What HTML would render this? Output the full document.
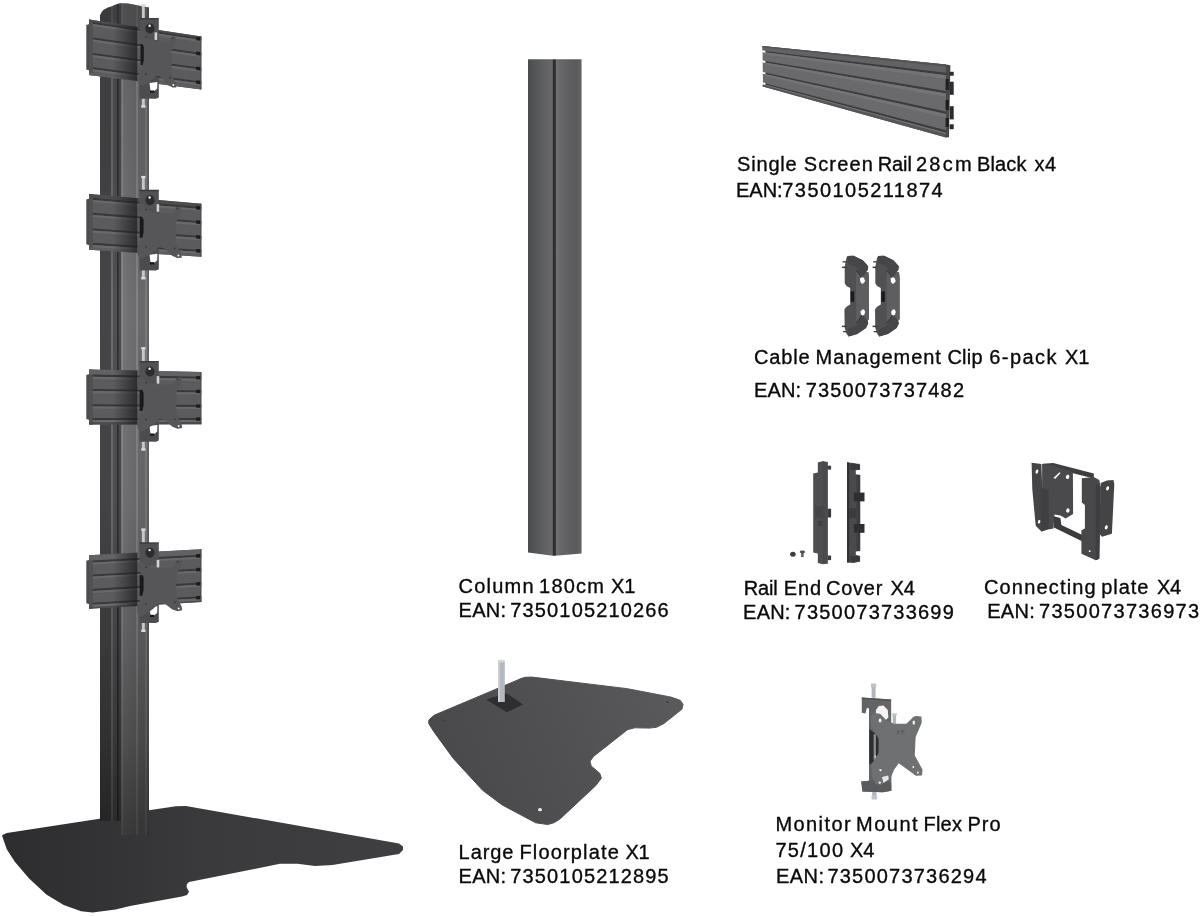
<!DOCTYPE html>
<html><head><meta charset="utf-8"><title>Parts</title>
<style>html,body{margin:0;padding:0;background:#fff;}body{width:1200px;height:916px;position:relative;overflow:hidden;font-family:"Liberation Sans",sans-serif;}</style>
</head><body>
<svg width="1200" height="916" viewBox="0 0 1200 916" style="position:absolute;left:0;top:0;filter:blur(0.5px)"><defs>
<linearGradient id="shG" x1="113" x2="138" y1="0" y2="0" gradientUnits="userSpaceOnUse"><stop offset="0" stop-color="#1a1a1c" stop-opacity="0"/><stop offset="0.6" stop-color="#1a1a1c" stop-opacity="0.45"/><stop offset="1" stop-color="#1a1a1c" stop-opacity="0.75"/></linearGradient>
<linearGradient id="colH" x1="100" x2="149" y1="0" y2="0" gradientUnits="userSpaceOnUse">
 <stop offset="0" stop-color="#454547"/><stop offset="0.22" stop-color="#464648"/>
 <stop offset="0.225" stop-color="#6c6c6e"/><stop offset="0.265" stop-color="#6c6c6e"/>
 <stop offset="0.27" stop-color="#505052"/><stop offset="0.345" stop-color="#505052"/>
 <stop offset="0.35" stop-color="#2c2c2e"/><stop offset="0.375" stop-color="#2c2c2e"/>
 <stop offset="0.38" stop-color="#4a4a4c"/><stop offset="0.435" stop-color="#4c4c4e"/>
 <stop offset="0.44" stop-color="#8a8a8c"/><stop offset="0.47" stop-color="#8a8a8c"/>
 <stop offset="0.475" stop-color="#747476"/><stop offset="0.74" stop-color="#6b6b6d"/>
 <stop offset="0.745" stop-color="#828284"/><stop offset="0.775" stop-color="#828284"/>
 <stop offset="0.78" stop-color="#6a6a6c"/><stop offset="0.915" stop-color="#68686a"/>
 <stop offset="0.92" stop-color="#7a7a7c"/><stop offset="0.955" stop-color="#7a7a7c"/>
 <stop offset="0.96" stop-color="#666668"/><stop offset="1" stop-color="#606062"/>
</linearGradient>
<linearGradient id="colV" x1="0" x2="0" y1="0" y2="836" gradientUnits="userSpaceOnUse">
 <stop offset="0" stop-color="#000" stop-opacity="0.12"/>
 <stop offset="0.18" stop-color="#000" stop-opacity="0.09"/>
 <stop offset="0.36" stop-color="#000" stop-opacity="0.0"/>
 <stop offset="0.6" stop-color="#000" stop-opacity="0.04"/>
 <stop offset="0.777" stop-color="#000" stop-opacity="0.19"/>
 <stop offset="0.885" stop-color="#000" stop-opacity="0.31"/>
 <stop offset="0.957" stop-color="#000" stop-opacity="0.43"/>
 <stop offset="1" stop-color="#000" stop-opacity="0.50"/>
</linearGradient>
<linearGradient id="baseG" x1="0" x2="400" y1="0" y2="0" gradientUnits="userSpaceOnUse">
 <stop offset="0" stop-color="#2d2d2f"/><stop offset="0.3" stop-color="#343436"/><stop offset="0.5" stop-color="#3a3a3c"/><stop offset="1" stop-color="#3f3f41"/>
</linearGradient>
<linearGradient id="col2" x1="528" x2="581.5" y1="0" y2="0" gradientUnits="userSpaceOnUse">
 <stop offset="0" stop-color="#4b4c4e"/><stop offset="0.25" stop-color="#5c5d5f"/>
 <stop offset="0.455" stop-color="#69696b"/><stop offset="0.47" stop-color="#2e2e30"/>
 <stop offset="0.512" stop-color="#2e2e30"/><stop offset="0.527" stop-color="#727274"/>
 <stop offset="0.6" stop-color="#676769"/><stop offset="0.8" stop-color="#5e5e60"/>
 <stop offset="0.93" stop-color="#5a5a5c"/><stop offset="0.95" stop-color="#646466"/><stop offset="1" stop-color="#5a5a5c"/>
</linearGradient>
<g id="clip"><path d="M847.5,255.9 L853.5,255.7 L862.8,260.3 L868.2,266.3 L867.7,269.9 L864.7,272.3 L868.4,272.3 L869.0,277.8 L869.0,319.2 L867.7,320.5 L868.2,323.6 L866.0,328.0 L857.3,334.0 L848.6,336.5 L846.4,333.4 L844.7,328.0 L844.4,309.4 L846.4,306.7 L850.2,304.5 L850.2,288.1 L846.4,285.9 L844.7,283.2 L844.7,266.8 L846.4,258.1 Z" fill="#505052"/><path d="M856.0,272.3 L861.7,276.7 L864.7,272.3 L868.4,272.3 L869.0,277.8 L869.0,319.2 L867.1,320.3 L864.9,317.1 L861.7,314.9 L856.2,321.4 Z" fill="#5e5e60"/><path d="M847.5,255.9 L853.5,255.7 L862.8,260.3 L868.2,266.3 L867.7,269.9 L862.8,276.7 L859.5,272.3 L856.2,266.8 L848.0,263.6 Z" fill="#464648"/><path d="M848.6,336.5 L857.3,334.0 L866.0,328.0 L868.2,323.6 L867.1,320.3 L862.8,316.0 L859.5,320.3 L856.2,325.8 L847.5,329.1 Z" fill="#464648"/><path d="M860.0,278.3 L862.2,277.2 L863.8,277.8 L865.2,281.0 L863.3,283.4 L861.7,283.8 L860.3,281.6 Z" fill="#fff"/><path d="M860.6,311.6 L862.2,309.4 L864.1,309.6 L865.2,312.1 L864.1,314.9 L862.2,315.4 L860.8,314.0 Z" fill="#fff"/><rect x="850.7" y="291.4" width="3.5" height="10.4" fill="#1a1a1c"/><path d="M856.0,270.7 L858.6,272.3 L861.1,277.2" stroke="#2a2a2c" stroke-width="0.8" fill="none"/><path d="M856.2,323.1 L858.9,320.3 L861.7,315.4" stroke="#2a2a2c" stroke-width="0.8" fill="none"/><rect x="842.6" y="261.2" width="4.0" height="1.3" fill="#3a3a3c"/><rect x="842.0" y="266.6" width="4.6" height="1.5" fill="#3a3a3c"/><rect x="842.0" y="325.6" width="4.6" height="1.5" fill="#3a3a3c"/><rect x="843.1" y="331.0" width="3.8" height="1.3" fill="#3a3a3c"/></g><linearGradient id="fpG" x1="430" y1="790" x2="680" y2="690" gradientUnits="userSpaceOnUse"><stop offset="0" stop-color="#48484a"/><stop offset="0.5" stop-color="#505052"/><stop offset="1" stop-color="#5a5a5c"/></linearGradient></defs><polygon points="2.3,834.9 6.9,833.1 99.5,818.7 150.5,810.0 176.0,806.3 186.0,806.0 399.0,843.5 403.0,846.5 403.0,850.0 399.0,854.0 332.5,865.0 315.0,866.0 297.5,863.8 280.0,863.8 189.0,882.0 187.0,884.0 186.5,887.0 189.0,891.8 187.0,895.0 182.0,896.5 130.0,906.1 115.7,909.5 92.6,912.4 81.0,911.3 63.7,904.9 46.3,894.5 28.9,878.3 15.0,862.1 6.9,849.4 2.3,836.6" fill="url(#baseG)"/>
<path d="M100,830 L100,15.5 Q102,8.5 112,6.2 Q118,3.4 121,3.2 L128,3.5 L141,6.1 L149,7.4 L149,835 L121,835 L121,821 L100,821 Z" fill="url(#colH)"/>
<path d="M100,830 L100,15.5 Q102,8.5 112,6.2 Q118,3.4 121,3.2 L128,3.5 L141,6.1 L149,7.4 L149,835 L121,835 L121,821 L100,821 Z" fill="url(#colV)"/>
<path d="M100,30 L100,15.5 Q102,8.5 112,6.2 Q118,3.4 121,3.2 L128,3.5 L141,6.1 L149,7.4 L149,30 Z" fill="#38383a" opacity="0.5"/>
<polygon points="86.3,25.1 89.5,24.1 89.5,70.4 86.3,69.4" fill="#4a4a4c"/>
<polygon points="89.0,19.6 201.3,36.4 201.3,89.4 89.0,74.9" fill="#5b5b5d"/>
<polygon points="89.0,19.6 92.9,20.2 92.9,75.4 89.0,74.9" fill="#515153" />
<polygon points="89.0,19.6 201.3,36.4 201.3,38.0 89.0,21.3" fill="#4c4c4e" />
<polygon points="89.0,72.4 201.3,87.0 201.3,89.4 89.0,74.9" fill="#5e5e60" />
<polygon points="92.9,22.0 201.3,38.1 201.3,40.1 92.9,24.1" fill="#38383a" />
<polygon points="92.9,24.1 201.3,40.1 201.3,42.2 92.9,26.3" fill="#69696b" />
<polygon points="92.9,37.4 201.3,52.9 201.3,55.0 92.9,39.5" fill="#38383a" />
<polygon points="92.9,39.5 201.3,55.0 201.3,57.1 92.9,41.7" fill="#69696b" />
<polygon points="92.9,52.9 201.3,67.8 201.3,69.8 92.9,55.0" fill="#38383a" />
<polygon points="92.9,55.0 201.3,69.8 201.3,71.9 92.9,57.2" fill="#69696b" />
<polygon points="92.9,67.2 201.3,81.6 201.3,83.6 92.9,69.3" fill="#38383a" />
<polygon points="92.9,69.3 201.3,83.6 201.3,85.7 92.9,71.5" fill="#69696b" />
<polygon points="113.7,23.3 137.3,26.8 137.3,81.1 113.7,78.1" fill="url(#shG)" />
<polygon points="196.2,36.7 200.2,37.3 200.2,40.7 196.2,40.2" fill="#1c1c1e" />
<polygon points="196.2,51.6 200.2,52.1 200.2,55.6 196.2,55.0" fill="#1c1c1e" />
<polygon points="196.2,66.4 200.2,67.0 200.2,70.4 196.2,69.9" fill="#1c1c1e" />
<polygon points="196.2,80.3 200.2,80.8 200.2,84.2 196.2,83.7" fill="#1c1c1e" />
<polygon points="200.4,36.3 201.3,36.4 201.3,89.4 200.4,89.3" fill="#4a4a4c" />
<rect x="141.9" y="4.5" width="2.9" height="14" fill="#c4c8cc"/>
<rect x="141.2" y="4.2" width="4.3" height="2.2" fill="#d8dbde"/>
<rect x="141.9" y="98.5" width="2.9" height="8" fill="#c4c8cc"/>
<rect x="141.2" y="105.3" width="4.3" height="2.4" fill="#d8dbde"/>
<path d="M139.6,18.5 L158.8,19.3 L158.8,41.0 L139.6,41.0 Z" fill="#515153"/>
<rect x="139.6" y="18.0" width="19.2" height="1.6" fill="#3c3c3e"/>
<ellipse cx="150" cy="28.5" rx="4.6" ry="5" fill="#2c2c2e"/>
<circle cx="149.6" cy="25.8" r="1.2" fill="#f4f4f4"/>
<path d="M139.6,77.0 L158.8,77.0 L158.8,97.5 L156,98.8 L139.6,98.5 Z" fill="#4c4c4e"/>
<path d="M149.5,83.0 L157.4,82.0 L157.2,88.5 L154.5,91.0 L150.5,91.0 Z" fill="#fff"/>
<rect x="150" y="90.5" width="4.3" height="2.2" fill="#161618"/>
<polygon points="140.5,43.8 144.2,44.5 144.2,65.5 140.5,64.8" fill="#1a1a1c"/>
<polygon points="138.3,31.5 142.2,30.8 146.0,35.4 150.4,40.0 168.0,43.0 171.3,38.3 173.0,35.9 175.7,37.0 175.7,41.6 171.3,51.4 171.3,72.3 175.7,83.5 176.3,87.6 172.4,87.6 168.0,84.9 161.4,77.2 157.0,75.2 152.6,79.7 148.2,82.9 142.2,85.8 138.9,82.7 138.3,74.7 142.7,65.0 143.8,59.9 143.8,46.8 138.9,36.8" fill="#565658"/>
<circle cx="146.0" cy="37.3" r="1" fill="#3a3a3c"/>
<circle cx="172.3" cy="38.1" r="1" fill="#3a3a3c"/>
<circle cx="145.8" cy="74.2" r="1" fill="#3a3a3c"/>
<circle cx="170.2" cy="77.8" r="1" fill="#3a3a3c"/>
<circle cx="173.3" cy="85.1" r="1" fill="#eee"/>
<rect x="154.6" y="32.4" width="2.6" height="7.5" fill="#d0d3d6"/>
<polygon points="86.3,199.5 89.5,198.5 89.5,245.2 86.3,244.2" fill="#4a4a4c"/>
<polygon points="89.0,194.0 201.3,203.7 201.3,256.7 89.0,249.7" fill="#5b5b5d"/>
<polygon points="89.0,194.0 92.9,194.3 92.9,249.9 89.0,249.7" fill="#515153" />
<polygon points="89.0,194.0 201.3,203.7 201.3,206.9 89.0,197.3" fill="#4c4c4e" />
<polygon points="89.0,247.2 201.3,254.3 201.3,256.7 89.0,249.7" fill="#5e5e60" />
<polygon points="92.9,197.8 201.3,207.0 201.3,209.0 92.9,199.9" fill="#38383a" />
<polygon points="92.9,199.9 201.3,209.0 201.3,211.1 92.9,202.1" fill="#69696b" />
<polygon points="92.9,212.8 201.3,221.3 201.3,223.3 92.9,214.9" fill="#38383a" />
<polygon points="92.9,214.9 201.3,223.3 201.3,225.4 92.9,217.1" fill="#69696b" />
<polygon points="92.9,228.4 201.3,236.1 201.3,238.1 92.9,230.5" fill="#38383a" />
<polygon points="92.9,230.5 201.3,238.1 201.3,240.3 92.9,232.7" fill="#69696b" />
<polygon points="92.9,242.8 201.3,249.9 201.3,251.9 92.9,244.9" fill="#38383a" />
<polygon points="92.9,244.9 201.3,251.9 201.3,254.0 92.9,247.2" fill="#69696b" />
<polygon points="113.7,196.1 137.3,198.2 137.3,252.7 113.7,251.2" fill="url(#shG)" />
<polygon points="196.2,205.9 200.2,206.3 200.2,209.7 196.2,209.4" fill="#1c1c1e" />
<polygon points="196.2,220.3 200.2,220.6 200.2,224.0 196.2,223.7" fill="#1c1c1e" />
<polygon points="196.2,235.1 200.2,235.4 200.2,238.9 196.2,238.6" fill="#1c1c1e" />
<polygon points="196.2,248.9 200.2,249.2 200.2,252.7 196.2,252.4" fill="#1c1c1e" />
<polygon points="200.4,203.6 201.3,203.7 201.3,256.7 200.4,256.6" fill="#4a4a4c" />
<rect x="141.9" y="176.2" width="2.9" height="14" fill="#c4c8cc"/>
<rect x="141.2" y="175.9" width="4.3" height="2.2" fill="#d8dbde"/>
<rect x="141.9" y="270.2" width="2.9" height="8" fill="#c4c8cc"/>
<rect x="141.2" y="277.0" width="4.3" height="2.4" fill="#d8dbde"/>
<path d="M139.6,190.2 L158.8,191.0 L158.8,212.7 L139.6,212.7 Z" fill="#515153"/>
<rect x="139.6" y="189.7" width="19.2" height="1.6" fill="#3c3c3e"/>
<ellipse cx="150" cy="200.2" rx="4.6" ry="5" fill="#2c2c2e"/>
<circle cx="149.6" cy="197.5" r="1.2" fill="#f4f4f4"/>
<path d="M139.6,248.7 L158.8,248.7 L158.8,269.2 L156,270.5 L139.6,270.2 Z" fill="#4c4c4e"/>
<path d="M149.5,254.7 L157.4,253.7 L157.2,260.2 L154.5,262.7 L150.5,262.7 Z" fill="#fff"/>
<rect x="150" y="262.2" width="4.3" height="2.2" fill="#161618"/>
<polygon points="139.7,216.8 144.0,217.1 144.0,238.1 139.7,237.8" fill="#1a1a1c"/>
<polygon points="137.1,204.6 141.7,203.6 146.2,207.9 151.4,212.2 172.1,213.8 176.0,208.8 178.0,206.4 181.2,207.3 181.2,211.8 176.0,221.9 176.0,242.9 181.2,253.8 181.9,257.7 177.3,258.1 172.1,255.7 164.3,248.6 159.2,246.9 154.0,251.7 148.8,255.3 141.7,258.7 137.8,255.7 137.1,247.8 142.3,237.7 143.6,232.6 143.6,219.5 137.8,209.9" fill="#565658"/>
<circle cx="146.2" cy="209.8" r="1" fill="#3a3a3c"/>
<circle cx="177.2" cy="208.6" r="1" fill="#3a3a3c"/>
<circle cx="146.0" cy="246.8" r="1" fill="#3a3a3c"/>
<circle cx="174.7" cy="248.4" r="1" fill="#3a3a3c"/>
<circle cx="178.4" cy="255.5" r="1" fill="#eee"/>
<rect x="156.6" y="204.2" width="2.6" height="7.5" fill="#d0d3d6"/>
<polygon points="86.3,375.0 89.5,374.0 89.5,420.0 86.3,419.0" fill="#4a4a4c"/>
<polygon points="89.0,369.5 201.3,372.0 201.3,424.2 89.0,424.5" fill="#5b5b5d"/>
<polygon points="89.0,369.5 92.9,369.6 92.9,424.5 89.0,424.5" fill="#515153" />
<polygon points="89.0,369.5 201.3,372.0 201.3,376.7 89.0,374.4" fill="#626264" />
<polygon points="89.0,422.0 201.3,421.9 201.3,424.2 89.0,424.5" fill="#4a4a4c" />
<polygon points="92.9,374.6 201.3,376.8 201.3,378.8 92.9,376.7" fill="#38383a" />
<polygon points="92.9,376.7 201.3,378.8 201.3,380.9 92.9,378.9" fill="#69696b" />
<polygon points="92.9,388.9 201.3,390.4 201.3,392.4 92.9,391.0" fill="#38383a" />
<polygon points="92.9,391.0 201.3,392.4 201.3,394.4 92.9,393.2" fill="#69696b" />
<polygon points="92.9,404.3 201.3,405.0 201.3,407.0 92.9,406.4" fill="#38383a" />
<polygon points="92.9,406.4 201.3,407.0 201.3,409.1 92.9,408.6" fill="#69696b" />
<polygon points="92.9,418.0 201.3,418.0 201.3,420.0 92.9,420.1" fill="#38383a" />
<polygon points="92.9,420.1 201.3,420.0 201.3,422.1 92.9,422.3" fill="#69696b" />
<polygon points="113.7,370.1 137.3,370.6 137.3,424.4 113.7,424.4" fill="url(#shG)" />
<polygon points="196.2,376.1 200.2,376.2 200.2,379.5 196.2,379.5" fill="#1c1c1e" />
<polygon points="196.2,389.7 200.2,389.7 200.2,393.1 196.2,393.1" fill="#1c1c1e" />
<polygon points="196.2,404.3 200.2,404.4 200.2,407.8 196.2,407.7" fill="#1c1c1e" />
<polygon points="196.2,417.4 200.2,417.4 200.2,420.8 196.2,420.8" fill="#1c1c1e" />
<polygon points="200.4,372.0 201.3,372.0 201.3,424.2 200.4,424.2" fill="#4a4a4c" />
<rect x="141.9" y="347.5" width="2.9" height="14" fill="#c4c8cc"/>
<rect x="141.2" y="347.2" width="4.3" height="2.2" fill="#d8dbde"/>
<rect x="141.9" y="441.5" width="2.9" height="8" fill="#c4c8cc"/>
<rect x="141.2" y="448.3" width="4.3" height="2.4" fill="#d8dbde"/>
<path d="M139.6,361.5 L158.8,362.3 L158.8,384.0 L139.6,384.0 Z" fill="#515153"/>
<rect x="139.6" y="361.0" width="19.2" height="1.6" fill="#3c3c3e"/>
<ellipse cx="150" cy="371.5" rx="4.6" ry="5" fill="#2c2c2e"/>
<circle cx="149.6" cy="368.8" r="1.2" fill="#f4f4f4"/>
<path d="M139.6,420.0 L158.8,420.0 L158.8,440.5 L156,441.8 L139.6,441.5 Z" fill="#4c4c4e"/>
<path d="M149.5,426.0 L157.4,425.0 L157.2,431.5 L154.5,434.0 L150.5,434.0 Z" fill="#fff"/>
<rect x="150" y="433.5" width="4.3" height="2.2" fill="#161618"/>
<polygon points="139.6,389.9 144.0,390.0 144.0,411.0 139.6,410.9" fill="#1a1a1c"/>
<polygon points="137.0,377.9 141.6,376.6 146.2,380.6 151.4,384.6 172.4,384.8 176.3,379.6 178.3,377.0 181.6,377.7 181.6,382.3 176.3,392.7 176.3,413.7 181.6,424.2 182.2,428.1 177.6,428.8 172.4,426.7 164.5,420.1 159.3,418.7 154.1,423.9 148.8,427.8 141.6,431.7 137.7,429.0 137.0,421.1 142.3,410.7 143.6,405.5 143.6,392.4 137.7,383.2" fill="#565658"/>
<circle cx="146.2" cy="382.5" r="1" fill="#3a3a3c"/>
<circle cx="177.5" cy="379.3" r="1" fill="#3a3a3c"/>
<circle cx="146.0" cy="419.5" r="1" fill="#3a3a3c"/>
<circle cx="175.0" cy="419.3" r="1" fill="#3a3a3c"/>
<circle cx="178.7" cy="426.1" r="1" fill="#eee"/>
<rect x="156.7" y="376.1" width="2.6" height="7.5" fill="#d0d3d6"/>
<polygon points="86.3,560.7 89.5,559.7 89.5,604.3 86.3,603.3" fill="#4a4a4c"/>
<polygon points="89.0,555.2 201.3,549.3 201.3,602.0 89.0,608.8" fill="#5b5b5d"/>
<polygon points="89.0,555.2 92.9,555.0 92.9,608.6 89.0,608.8" fill="#515153" />
<polygon points="89.0,555.2 201.3,549.3 201.3,554.6 89.0,560.6" fill="#626264" />
<polygon points="89.0,606.4 201.3,599.6 201.3,602.0 89.0,608.8" fill="#4a4a4c" />
<polygon points="92.9,560.5 201.3,554.7 201.3,556.7 92.9,562.5" fill="#38383a" />
<polygon points="92.9,562.5 201.3,556.7 201.3,558.8 92.9,564.6" fill="#69696b" />
<polygon points="92.9,574.4 201.3,568.4 201.3,570.4 92.9,576.4" fill="#38383a" />
<polygon points="92.9,576.4 201.3,570.4 201.3,572.5 92.9,578.6" fill="#69696b" />
<polygon points="92.9,588.8 201.3,582.6 201.3,584.6 92.9,590.9" fill="#38383a" />
<polygon points="92.9,590.9 201.3,584.6 201.3,586.7 92.9,593.0" fill="#69696b" />
<polygon points="92.9,602.8 201.3,596.3 201.3,598.3 92.9,604.8" fill="#38383a" />
<polygon points="92.9,604.8 201.3,598.3 201.3,600.4 92.9,607.0" fill="#69696b" />
<polygon points="113.7,553.9 137.3,552.7 137.3,605.9 113.7,607.3" fill="url(#shG)" />
<polygon points="196.2,554.3 200.2,554.1 200.2,557.5 196.2,557.7" fill="#1c1c1e" />
<polygon points="196.2,568.0 200.2,567.8 200.2,571.2 196.2,571.5" fill="#1c1c1e" />
<polygon points="196.2,582.3 200.2,582.0 200.2,585.5 196.2,585.7" fill="#1c1c1e" />
<polygon points="196.2,596.0 200.2,595.7 200.2,599.2 196.2,599.4" fill="#1c1c1e" />
<polygon points="200.4,549.3 201.3,549.3 201.3,602.0 200.4,602.1" fill="#4a4a4c" />
<rect x="141.9" y="528.8" width="2.9" height="14" fill="#c4c8cc"/>
<rect x="141.2" y="528.5" width="4.3" height="2.2" fill="#d8dbde"/>
<rect x="141.9" y="622.8" width="2.9" height="8" fill="#c4c8cc"/>
<rect x="141.2" y="629.6" width="4.3" height="2.4" fill="#d8dbde"/>
<path d="M139.6,542.8 L158.8,543.6 L158.8,565.3 L139.6,565.3 Z" fill="#515153"/>
<rect x="139.6" y="542.3" width="19.2" height="1.6" fill="#3c3c3e"/>
<ellipse cx="150" cy="552.8" rx="4.6" ry="5" fill="#2c2c2e"/>
<circle cx="149.6" cy="550.1" r="1.2" fill="#f4f4f4"/>
<path d="M139.6,601.3 L158.8,601.3 L158.8,621.8 L156,623.1 L139.6,622.8 Z" fill="#4c4c4e"/>
<path d="M149.5,607.3 L157.4,606.3 L157.2,612.8 L154.5,615.3 L150.5,615.3 Z" fill="#fff"/>
<rect x="150" y="614.8" width="4.3" height="2.2" fill="#161618"/>
<polygon points="139.6,574.9 144.0,574.7 144.0,595.7 139.6,595.9" fill="#1a1a1c"/>
<polygon points="137.0,563.0 141.6,561.5 146.2,565.1 151.4,568.8 172.4,567.6 176.3,562.1 178.3,559.4 181.6,559.9 181.6,564.5 176.3,575.2 176.3,596.2 181.6,606.4 182.2,610.3 177.6,611.2 172.4,609.5 164.5,603.4 159.3,602.4 154.1,607.9 148.8,612.2 141.6,616.5 137.7,614.1 137.0,606.3 142.3,595.5 143.6,590.2 143.6,577.1 137.7,568.2" fill="#565658"/>
<circle cx="146.2" cy="567.0" r="1" fill="#3a3a3c"/>
<circle cx="177.5" cy="561.8" r="1" fill="#3a3a3c"/>
<circle cx="146.0" cy="604.0" r="1" fill="#3a3a3c"/>
<circle cx="175.0" cy="601.9" r="1" fill="#3a3a3c"/>
<circle cx="178.7" cy="608.5" r="1" fill="#eee"/>
<rect x="156.7" y="559.9" width="2.6" height="7.5" fill="#d0d3d6"/>
<polygon points="762.5,46.1 946.0,64.6 946.0,137.4 763.0,86.5" fill="#6a6a6c"/>
<polygon points="946,64.6 950.4,65.3 949,137.2 946,137.4" fill="#48484a"/>
<rect x="949.6" y="71.8" width="4.1" height="3.9" fill="#2c2c2e"/>
<rect x="949.6" y="81.7" width="4.1" height="13.1" fill="#2c2c2e"/>
<rect x="949.6" y="106.2" width="4.1" height="13.2" fill="#2c2c2e"/>
<rect x="949.6" y="124.3" width="4.1" height="4.9" fill="#2c2c2e"/>
<rect x="945.6" y="79" width="3.2" height="11.0" fill="#1e1e20"/>
<rect x="945.6" y="100" width="3.2" height="10.0" fill="#1e1e20"/>
<rect x="945.6" y="118" width="3.2" height="9.0" fill="#1e1e20"/>
<polygon points="762.5,46.1 946.0,64.6 946.0,72.6 762.5,50.5" fill="#626264" />
<polygon points="762.5,46.1 946.0,64.6 946.0,66.8 762.5,47.3" fill="#545456" />
<polygon points="764.7,50.9 946.0,72.8 946.0,75.3 764.7,52.3" fill="#3c3c3e" />
<polygon points="764.7,52.3 946.0,75.3 946.0,78.8 764.7,54.3" fill="#747476" />
<polygon points="764.7,61.1 946.0,91.0 946.0,93.5 764.7,62.5" fill="#3c3c3e" />
<polygon points="764.7,62.5 946.0,93.5 946.0,97.0 764.7,64.5" fill="#747476" />
<polygon points="764.7,72.5 946.0,111.4 946.0,113.9 764.7,73.9" fill="#3c3c3e" />
<polygon points="764.7,73.9 946.0,113.9 946.0,117.4 764.7,75.9" fill="#747476" />
<polygon points="764.7,83.2 946.0,130.3 946.0,132.8 764.7,84.5" fill="#3c3c3e" />
<polygon points="764.7,84.5 946.0,132.8 946.0,136.3 764.7,86.5" fill="#747476" />
<polygon points="762.5,84.7 946.0,134.1 946.0,137.4 762.5,86.5" fill="#565658" />
<polygon points="762.1,50.3 765.4,50.7 765.4,52.7 762.1,52.2" fill="#ffffff" />
<polygon points="762.1,60.4 765.4,60.9 765.4,62.9 762.1,62.3" fill="#ffffff" />
<polygon points="762.1,71.7 765.4,72.4 765.4,74.3 762.1,73.6" fill="#ffffff" />
<polygon points="762.1,82.2 765.4,83.0 765.4,85.0 762.1,84.1" fill="#ffffff" />
<use href="#clip"/><use href="#clip" transform="translate(30.6,0)"/>
<path d="M817.8,462.4 L823.1,461.1 L827.6,462.4 L827.6,553.5 L827.6,563.3 L823.1,564.2 L817.8,562.9 L817.8,553.5 L813.2,552.6 L813.2,473.6 L817.8,472.5 Z" fill="#4e4e50"/>
<rect x="823.1" y="461.8" width="4.6" height="101.9" fill="#4a4a4c" />
<rect x="827.6" y="465.7" width="3.5" height="3.9" fill="#3c3c3e" />
<rect x="827.6" y="508.7" width="3.5" height="8.8" fill="#3a3a3c" />
<rect x="827.6" y="555.5" width="3.5" height="4.6" fill="#3c3c3e" />
<rect x="815.2" y="506.3" width="7.9" height="11.8" fill="#444446" opacity="0.8"/>
<rect x="817.8" y="520.7" width="4.6" height="5.2" fill="#3c3c3e" opacity="0.7"/>
<path d="M847.0,462.4 L853.8,463.1 L860.1,464.7 L860.1,469.7 L855.8,470.3 L855.8,474.2 L860.1,474.9 L860.1,550.9 L855.8,551.5 L855.8,554.8 L860.1,555.9 L860.1,561.4 L853.8,562.9 L847.0,562.4 Z" fill="#4a4a4c"/>
<rect x="847.0" y="462.4" width="2.1" height="100.0" fill="#303032" />
<rect x="850.2" y="463.8" width="9.4" height="5.9" fill="#3a3a3c" />
<rect x="850.2" y="556.1" width="9.4" height="5.5" fill="#3a3a3c" />
<rect x="856.5" y="474.9" width="3.7" height="76.0" fill="#3e3e40" />
<rect x="853.8" y="492.6" width="10.7" height="8.8" fill="#2e2e30" />
<rect x="853.8" y="524.0" width="10.7" height="8.8" fill="#2e2e30" />
<rect x="849.1" y="508.3" width="7.3" height="9.8" fill="#3c3c3e" />
<ellipse cx="792.9" cy="554.3" rx="2.8" ry="2.5" fill="#3e3e40"/>
<ellipse cx="802.4" cy="551.9" rx="2.6" ry="1.4" fill="#4a4a4c"/>
<rect x="801.2" y="551.9" width="2.4" height="5.2" fill="#555557" />
<path d="M1042.8,463.8 L1053.2,463.1 L1093.8,473.6 L1093.8,478.6 L1053.2,468.3 L1042.8,466.4 Z" fill="#3e3e40" />
<path d="M1053.9,516.2 L1060.4,518.1 L1061.4,524.9 L1083.4,535.4 L1083.6,542.0 L1053.9,527.6 Z" fill="#3c3c3e" />
<path d="M1042.1,464.1 L1053.2,465.5 L1072.9,472.3 L1073.1,513.9 L1065.7,518.4 L1060.4,515.5 L1054.5,514.5 L1053.5,528.6 L1048.6,529.4 L1042.1,489.3 Z" fill="#4a4a4c" />
<path d="M1053.5,477.8 L1059.5,472.3 L1060.6,473.1 L1055.2,479.1 Z" fill="#f2f2f2" />
<path d="M1031.6,462.8 L1041.4,464.1 L1042.2,488.0 L1048.3,489.3 L1048.8,528.9 L1041.4,531.5 L1035.7,525.7 L1032.3,489.3 Z" fill="#454547" />
<path d="M1040.4,488.0 L1048.3,489.3 L1048.8,528.9 L1041.4,531.5 L1040.8,512.9 Z" fill="#404042" />
<path d="M1081.8,478.2 L1093.8,476.9 L1099.3,479.9 L1100.7,486.9 L1099.3,558.7 L1095.8,560.3 L1081.4,553.8 L1081.4,530.2 L1084.9,528.6 L1084.9,505.0 L1081.8,502.4 Z" fill="#48484a" />
<path d="M1095.8,484.1 L1100.7,486.9 L1099.3,558.7 L1095.8,560.3 Z" fill="#3e3e40" />
<path d="M1100.7,483.0 L1106.9,480.4 L1113.5,480.1 L1114.3,484.3 L1111.9,533.8 L1102.0,536.7 L1099.3,533.8 Z" fill="#444446" />
<ellipse cx="1036.9" cy="471.6" rx="1.3" ry="2.1" fill="#fff" transform="rotate(18 1036.9 471.6)"/>
<ellipse cx="1039.1" cy="521.8" rx="1.2" ry="1.8" fill="#fff" transform="rotate(18 1039.1 521.8)"/>
<ellipse cx="1067.6" cy="476.9" rx="1.7" ry="2.2" fill="#fff" transform="rotate(18 1067.6 476.9)"/>
<ellipse cx="1067.9" cy="510.5" rx="1.7" ry="2.2" fill="#fff" transform="rotate(18 1067.9 510.5)"/>
<ellipse cx="1107.6" cy="488.3" rx="1.4" ry="2.2" fill="#fff" transform="rotate(18 1107.6 488.3)"/>
<ellipse cx="1106.3" cy="527.3" rx="1.4" ry="2.2" fill="#fff" transform="rotate(18 1106.3 527.3)"/>
<ellipse cx="1089.7" cy="551.1" rx="1.0" ry="0.9" fill="#fff" transform="rotate(18 1089.7 551.1)"/>
<rect x="871.6" y="685.3" width="4.0" height="12.5" fill="#aeb6c0" />
<rect x="871.0" y="683.5" width="5.2" height="3.7" fill="#bcc4cc" />
<rect x="872.2" y="792.0" width="4.3" height="7.3" fill="#aeb6c0" />
<rect x="871.6" y="795.3" width="5.5" height="4.0" fill="#bcc4cc" />
<path d="M861.8,697.5 L891.1,699.5 L891.4,790.8 L882.7,792.3 L862.4,791.5 L861.3,781.6 L869.0,780.8 L869.0,708.2 L866.7,708.2 L865.5,713.6 L861.8,712.8 Z" fill="#626466" />
<path d="M861.8,697.5 L891.1,699.5 L891.1,701.0 L861.8,699.0 Z" fill="#505254" />
<path d="M861.3,781.6 L869.0,780.8 L891.1,782.4 L891.4,790.8 L882.7,792.3 L862.4,791.5 Z" fill="#585a5c" />
<path d="M875.9,710.0 L878.9,705.9 L883.5,705.5 L887.8,710.0 L888.4,717.4 L883.5,722.0 L875.9,714.3 Z" fill="#f4f4f4" />
<path d="M869.4,728.9 L875.9,734.2 L878.6,738.8 L878.6,753.3 L875.9,760.2 L869.4,764.8 Z" fill="#2c2e30" />
<path d="M873.6,734.2 L875.9,734.2 L875.9,760.2 L873.6,760.2 Z" fill="#8a8e92" />
<rect x="892.7" y="714.3" width="3.4" height="9.5" fill="#aeb6c0" />
<rect x="891.9" y="713.3" width="4.9" height="2.1" fill="#c0c6cc" />
<path d="M874.3,712.8 L880.4,714.0 L886.6,720.4 L894.2,723.8 L906.4,723.8 L913.3,717.1 L915.6,715.9 L921.4,716.6 L921.7,722.7 L915.6,737.3 L914.8,755.6 L922.5,769.4 L922.0,775.5 L915.9,775.8 L898.8,763.2 L894.2,769.4 L891.1,777.0 L881.2,784.9 L875.9,783.9 L872.0,777.0 L871.3,764.8 L878.9,752.5 L878.9,738.8 L871.3,726.6 L870.5,715.9 Z" fill="#6e7072" />
<ellipse cx="880.1" cy="720.4" rx="1.4" ry="2.0" fill="#f4f4f4"/>
<ellipse cx="913.8" cy="722.7" rx="1.2" ry="2.1" fill="#f4f4f4"/>
<ellipse cx="880.4" cy="770.1" rx="1.1" ry="1.2" fill="#f4f4f4"/>
<ellipse cx="913.3" cy="767.1" rx="0.9" ry="1.1" fill="#f4f4f4"/>
<ellipse cx="917.9" cy="772.7" rx="0.9" ry="1.1" fill="#f4f4f4"/>
<ellipse cx="879.7" cy="782.7" rx="1.2" ry="1.1" fill="#f4f4f4"/>
<ellipse cx="875.1" cy="756.4" rx="1.1" ry="1.5" fill="#b8bcc0"/>
<path d="M882.0,777.0 L888.1,775.5 L888.9,779.3 L883.5,783.1 Z" fill="#e8e8e8" />
<rect x="897.3" y="730.4" width="1.8" height="3.8" fill="#5a5c5e" />
<rect x="900.0" y="730.4" width="4.9" height="1.1" fill="#5a5c5e" />
<rect x="901.8" y="730.4" width="1.5" height="3.8" fill="#5a5c5e" />
<path d="M428.8,720.1 L434.2,715.2 L520.0,679.0 L524.8,677.3 L532.0,677.1 L627.5,688.7 L671.0,697.1 L680.2,700.3 L683.1,704.4 L681.9,709.2 L663.7,723.7 L656.5,727.3 L649.2,728.1 L634.7,727.8 L627.5,729.7 L593.7,756.3 L590.0,761.2 L591.2,766.0 L599.7,773.2 L601.4,778.1 L596.1,785.3 L559.8,819.2 L553.8,822.8 L547.7,824.5 L535.7,822.8 L501.8,804.7 L482.5,790.2 L453.5,758.7 L434.2,732.2 L428.8,723.7 Z" fill="url(#fpG)" stroke="url(#fpG)" stroke-width="1" stroke-linejoin="round"/>
<path d="M486.1,699.5 L506.7,693.5 L523.1,704.4 L506.7,712.3 Z" fill="#2e2e30" />
<rect x="498.0" y="660.9" width="6.8" height="41.1" fill="#b4b8c0" />
<ellipse cx="501.3" cy="660.9" rx="3.4" ry="1.5" fill="#d4d8de"/>
<rect x="498.0" y="660.9" width="1.9" height="41.1" fill="#cfd3d9" opacity="0.8"/>
<ellipse cx="540.0" cy="809.7" rx="2" ry="1.6" fill="#f0f0f0"/>
<circle cx="443.8" cy="720.8" r="0.9" fill="#38383a"/>
<circle cx="667.4" cy="702.0" r="0.9" fill="#38383a"/>
<path d="M528,59.2 L581.5,59.2 L581.5,553.5 L555.5,555.7 L552.8,555.7 L528,552.4 Z" fill="url(#col2)"/></svg>
<svg width="1200" height="916" viewBox="0 0 1200 916" style="position:absolute;left:0;top:0;font-family:'Liberation Sans',sans-serif;font-size:20px;fill:#0a0a0a;stroke:#0a0a0a;stroke-width:0.35px;will-change:transform"><text x="458.60" y="592.7" style="letter-spacing:1.201px">Column</text><text x="539.10" y="592.7" style="letter-spacing:1.208px">180cm</text><text x="611.00" y="592.7" style="letter-spacing:-0.150px">X1</text><text x="458.60" y="617.0" style="letter-spacing:0.292px">EAN:</text><text x="510.30" y="617.0" style="letter-spacing:1.144px">7350105210266</text><text x="737.10" y="170.5" style="letter-spacing:0.805px">Single</text><text x="803.70" y="170.5" style="letter-spacing:1.151px">Screen</text><text x="877.80" y="170.5" style="letter-spacing:-0.137px">Rail</text><text x="916.00" y="170.5" style="letter-spacing:2.218px">28cm</text><text x="976.90" y="170.5" style="letter-spacing:0.173px">Black</text><text x="1034.60" y="170.5" style="letter-spacing:0.300px">x4</text><text x="736.10" y="197.2" style="letter-spacing:-0.074px">EAN:</text><text x="782.30" y="197.2" style="letter-spacing:1.434px">7350105211874</text><text x="754.10" y="364.3" style="letter-spacing:0.817px">Cable</text><text x="815.60" y="364.3" style="letter-spacing:0.946px">Management</text><text x="947.40" y="364.3" style="letter-spacing:0.223px">Clip</text><text x="989.30" y="364.3" style="letter-spacing:1.434px">6-pack</text><text x="1065.10" y="364.3" style="letter-spacing:-0.150px">X1</text><text x="754.10" y="396.5" style="letter-spacing:0.126px">EAN:</text><text x="805.70" y="396.5" style="letter-spacing:1.144px">7350073737482</text><text x="743.70" y="594.5" style="letter-spacing:-0.150px">Rail</text><text x="783.80" y="594.5" style="letter-spacing:0.919px">End</text><text x="825.90" y="594.5" style="letter-spacing:0.803px">Cover</text><text x="890.60" y="594.5" style="letter-spacing:-0.150px">X4</text><text x="743.10" y="618.6" style="letter-spacing:0.192px">EAN:</text><text x="794.60" y="618.6" style="letter-spacing:1.219px">7350073733699</text><text x="983.95" y="594.3" style="letter-spacing:1.177px">Connecting</text><text x="1101.30" y="594.3" style="letter-spacing:0.938px">plate</text><text x="1156.90" y="594.3" style="letter-spacing:-0.150px">X4</text><text x="987.20" y="618.3" style="letter-spacing:0.326px">EAN:</text><text x="1039.00" y="618.3" style="letter-spacing:1.294px">7350073736973</text><text x="458.60" y="859.3" style="letter-spacing:0.918px">Large</text><text x="519.50" y="859.3" style="letter-spacing:1.154px">Floorplate</text><text x="625.40" y="859.3" style="letter-spacing:-0.150px">X1</text><text x="458.60" y="883.0" style="letter-spacing:0.292px">EAN:</text><text x="510.30" y="883.0" style="letter-spacing:1.144px">7350105212895</text><text x="775.40" y="831.4" style="letter-spacing:1.428px">Monitor</text><text x="856.00" y="831.4" style="letter-spacing:1.493px">Mount</text><text x="923.40" y="831.4" style="letter-spacing:0.272px">Flex</text><text x="967.40" y="831.4" style="letter-spacing:1.000px">Pro</text><text x="775.40" y="856.8" style="letter-spacing:1.310px">75/100</text><text x="850.00" y="856.8" style="letter-spacing:-0.150px">X4</text><text x="776.00" y="882.5" style="letter-spacing:0.426px">EAN:</text><text x="827.40" y="882.5" style="letter-spacing:1.210px">7350073736294</text></svg>
</body></html>
